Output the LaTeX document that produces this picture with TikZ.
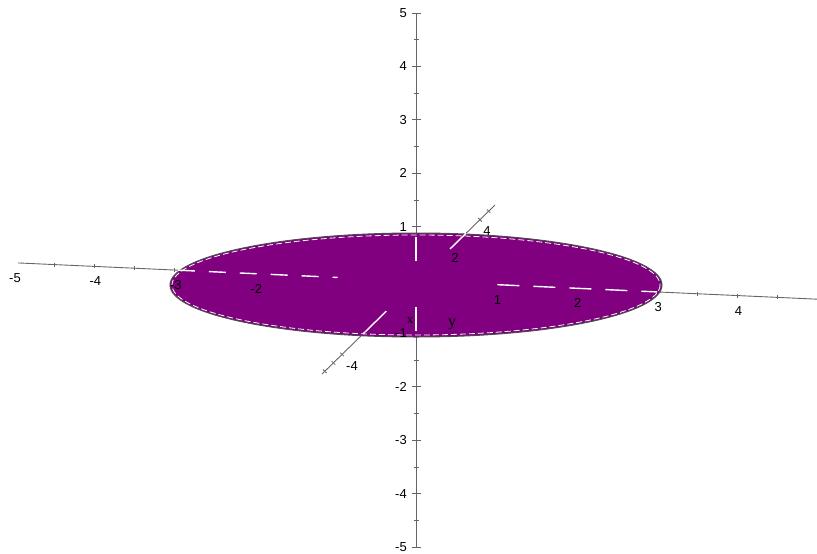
\documentclass[tikz,border=0pt]{standalone}
\usepackage{fontspec}
\setmainfont{Liberation Sans}
\newfontfamily\axisfont{Liberation Serif}
\usetikzlibrary{calc}
\tikzset{
  every node/.append style={font=\fontsize{13}{15}\selectfont, inner sep=1pt},
}
\tikzset{
  axis/.style={draw=black!60, line width=0.9pt},
  tickmark/.style={draw=black!60, line width=0.8pt},
  hidden/.style={draw=white, line width=1.4pt}
}
\begin{document}
\begin{tikzpicture}[
    x=1pt, y=-1pt,
    disc/.style={fill=discpurple, draw=black!70, line width=1pt},
    rim/.style={draw=white, line width=0.8pt, dash pattern=on 6pt off 3pt},
    ticklabel/.style={text=black}
]
% Colour definitions
\definecolor{discpurple}{RGB}{128,0,128}
\useasboundingbox (0,0) rectangle (817,554);

% Coordinates
\coordinate (O) at (416,280);
\coordinate (zbot) at (416,547);
\coordinate (ztop) at (416,13);
\coordinate (xneg) at ({416+80.4*(-4.95)},{281+3.65*(-4.95)});
\coordinate (xpos) at (817,{281+3.65*4.98});
\coordinate (yneg) at (322,374);
\coordinate (ypos) at (495,205);

% Axes
\draw[axis] (zbot) -- (ztop);
\draw[axis] (xneg) -- (xpos);
\draw[axis] (yneg) -- (ypos);

% Ticks
\foreach \t in {-5,...,5}
  \draw[tickmark] (412,{280-53.4*\t}) -- (421,{280-53.4*\t});
\foreach \t in {-4.5,-3.5,...,4.5}
  \draw[tickmark] (413.5,{280-53.4*\t}) -- (418.5,{280-53.4*\t});
\foreach \u in {-4.5,-4,...,5}
  \draw[tickmark] ({416+80.4*\u},{279+3.65*\u}) -- ++(0,4);
\foreach \s in {0.016,0.066,0.116,0.913,0.963}
  \draw[tickmark] ($(yneg)!\s!(ypos)$) ++(-1.8,-1.8) -- ++(3.6,3.6);

% Disc
\draw[disc] (416,285) ellipse [x radius=246, y radius=52];
\draw[rim] (416,285) ellipse [x radius=244, y radius=50];

% Hidden parts of the axes
\draw[hidden, dash pattern=on 24pt off 46pt] (416,237) -- (416,333);
\draw[hidden, dash pattern=on 17pt off 14pt]
  ($(xneg)!0.20!(xpos)$) -- ($(xneg)!0.40!(xpos)$);
\draw[hidden, dash pattern=on 22pt off 14pt]
  ($(xneg)!0.60!(xpos)$) -- ($(xneg)!0.80!(xpos)$);
\draw[hidden] ($(yneg)!0.237!(ypos)$) -- ($(yneg)!0.372!(ypos)$);
\draw[hidden] ($(yneg)!0.832!(ypos)$) -- ($(yneg)!0.74!(ypos)$);

% Labels
\foreach \t in {-5,...,-1,1,2,...,5}
  \node[ticklabel, anchor=east] (zl\t) at (408,{280-53.4*\t}) {\t};
\foreach \u in {-5,-4,-3,-2,1,2,3,4}
  \node[ticklabel] (xl\u) at ({417+80.4*\u},{296+3.65*\u}) {\u};
\node[ticklabel] (yl4m) at (352,366) {-4};
\node[ticklabel] (yl2) at (455,258) {2};
\node[ticklabel] (yl4) at (487,231) {4};
\node[font=\axisfont\fontsize{16}{17}\selectfont] (ylabel) at (452,325) {y};
\node[font=\axisfont\fontsize{13}{14}\selectfont] (xlabel) at (410,321) {x};

\end{tikzpicture}
\end{document}
